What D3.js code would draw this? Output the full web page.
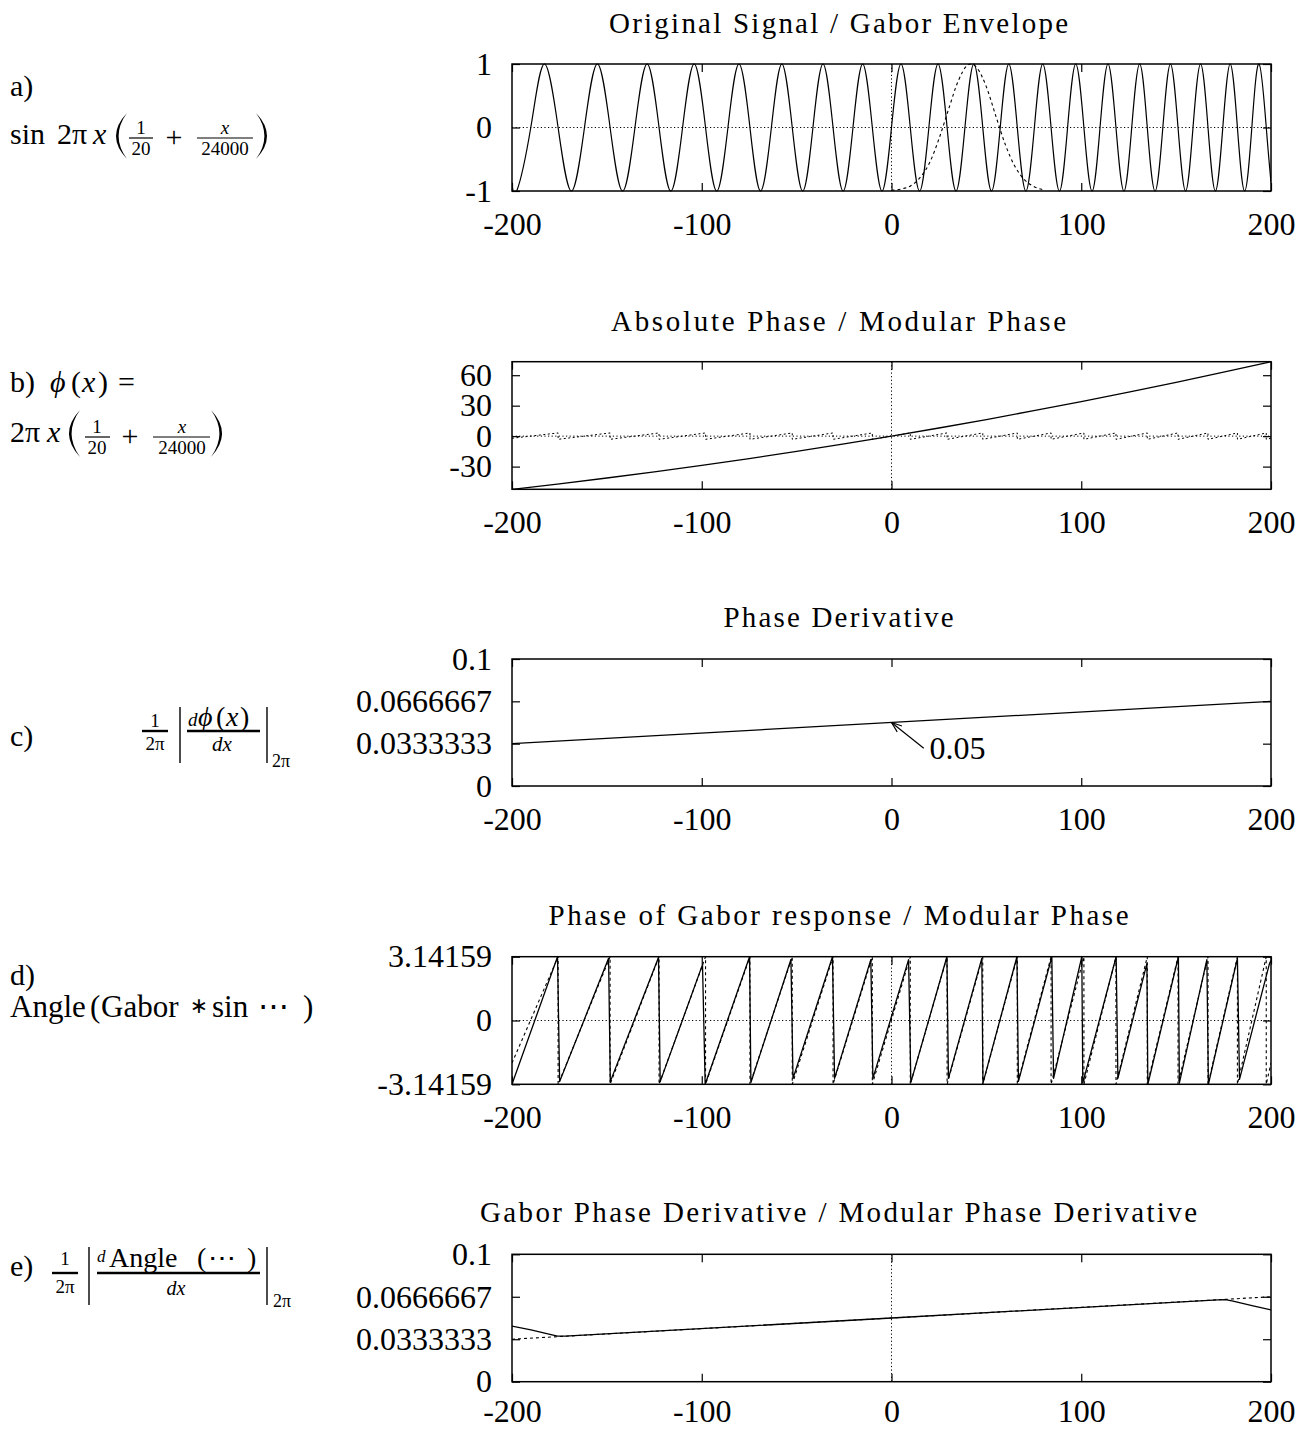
<!DOCTYPE html>
<html>
<head>
<meta charset="utf-8">
<script src="https://cdn.jsdelivr.net/npm/d3@7"></script>
<style>
  body { margin: 0; background: #fff; }
  svg { display: block; }
  text { font-family: "Liberation Serif", "Times New Roman", serif; fill: #000; }
</style>
</head>
<body>
<svg id="fig" width="1312" height="1430"></svg>
<script>
// ---------------- data ----------------
const xTicks = [-200, -100, 0, 100, 200];
const xTickLabels = ["-200", "-100", "0", "100", "200"];

// a) chirp sin 2πx(1/20 + x/24000): samples at extrema and zero crossings
const signalX = [-200, -197.5, -190.1, -183.0, -175.7, -168.7, -161.8, -155.0, -148.3, -141.7, -135.2,
  -128.8, -122.5, -116.3, -110.1, -104.0, -98.0, -92.1, -86.2, -80.4, -74.6, -69.0, -63.3, -57.8,
  -52.3, -46.8, -41.4, -36.1, -30.8, -25.5, -20.3, -15.2, -10.1, -5.0, 0, 5.0, 9.9, 14.8, 19.7,
  24.5, 29.3, 34.0, 38.7, 43.4, 48.1, 52.7, 57.3, 61.8, 66.3, 70.8, 75.3, 79.7, 84.1, 88.5, 92.8,
  97.1, 101.4, 105.7, 109.9, 114.1, 118.3, 122.5, 126.6, 130.8, 134.8, 138.9, 143.0, 147.0, 151.0,
  155.0, 158.9, 162.9, 166.8, 170.7, 174.6, 178.5, 182.3, 186.1, 189.9, 193.7, 197.5, 200];
const signalY = [-0.866,
  -1, 0, 1, 0, -1, 0, 1, 0, -1, 0, 1, 0, -1, 0, 1, 0, -1, 0, 1, 0,
  -1, 0, 1, 0, -1, 0, 1, 0, -1, 0, 1, 0, -1, 0, 1, 0, -1, 0, 1, 0,
  -1, 0, 1, 0, -1, 0, 1, 0, -1, 0, 1, 0, -1, 0, 1, 0, -1, 0, 1, 0,
  -1, 0, 1, 0, -1, 0, 1, 0, -1, 0, 1, 0, -1, 0, 1, 0, -1, 0, 1, 0,
  -0.866];

// a) Gabor envelope
const envelopeX = [0, 5, 10, 15, 20, 25, 30, 35, 40, 42, 45, 50, 55, 60, 65, 70, 75, 80];
const envelopeY = [-0.99, -0.97, -0.92, -0.79, -0.56, -0.18, 0.28, 0.72, 0.98, 1.0, 0.94, 0.64, 0.18,
  -0.27, -0.61, -0.82, -0.93, -0.98];

// b) absolute phase φ(x)
const absPhaseX = [-200, -175, -150, -125, -100, -75, -50, -25, 0, 25, 50, 75, 100, 125, 150, 175, 200];
const absPhaseY = [-52.36, -46.96, -41.23, -35.18, -28.80, -22.09, -15.05, -7.69, 0, 8.02, 16.36,
  25.03, 34.03, 43.36, 53.01, 63.00, 73.30];

// b, d) modular phase (wrapped to [-π, π])
const modPhaseX = [-200, -175.7, -175.7, -148.3, -148.3, -122.5, -122.5, -98.0, -98.0, -74.6, -74.6,
  -52.3, -52.3, -30.8, -30.8, -10.1, -10.1, 9.9, 9.9, 29.3, 29.3, 48.1, 48.1, 66.3, 66.3, 84.1, 84.1,
  101.4, 101.4, 118.3, 118.3, 134.8, 134.8, 151.0, 151.0, 166.8, 166.8, 182.3, 182.3, 197.5, 197.5, 200];
const modPhaseY = [-2.09, 3.14, -3.14, 3.14, -3.14, 3.14, -3.14, 3.14, -3.14, 3.14, -3.14,
  3.14, -3.14, 3.14, -3.14, 3.14, -3.14, 3.14, -3.14, 3.14, -3.14, 3.14, -3.14, 3.14, -3.14, 3.14, -3.14,
  3.14, -3.14, 3.14, -3.14, 3.14, -3.14, 3.14, -3.14, 3.14, -3.14, 3.14, -3.14, 3.14, -3.14, -2.09];

// d) phase of the Gabor response
const gaborPhaseX = [-200, -176.0, -174.9, -149.1, -148.2, -122.8, -121.9, -99.6, -98.2, -74.8, -74.1,
  -53.0, -51.9, -31.1, -30.0, -10.9, -9.8, 9.0, 10.2, 29.2, 30.0, 47.6, 48.2, 66.1, 66.9, 84.5, 85.4,
  100.3, 100.8, 118.4, 119.3, 134.6, 135.1, 151.2, 151.7, 166.2, 167.0, 182.3, 183.4, 199.2, 200];
const gaborPhaseY = [-3.14, 3.14, -3.01, 3.06, -3.01, 3.10, -3.01, 2.75, -3.14, 3.14, -3.05,
  3.00, -2.85, 3.14, -2.85, 3.00, -2.85, 3.00, -3.05, 3.14, -2.85, 3.06, -3.08, 3.14, -3.00, 3.14, -2.85,
  3.14, -3.08, 3.14, -2.85, 2.80, -3.14, 3.14, -3.08, 3.00, -3.14, 3.06, -2.90, 2.80, 2.95];

// c, e) modular phase derivative / 2π
const phaseDerivX = [-200, 200];
const phaseDerivY = [0.0333333, 0.0666667];

// e) Gabor phase derivative / 2π
const gaborDerivX = [-200, -190, -180, -176, -172, 0, 172, 176, 180, 190, 200];
const gaborDerivY = [0.0437, 0.0407, 0.0372, 0.0357, 0.0357, 0.05, 0.0643, 0.0645, 0.0633, 0.0598, 0.0563];

// tick values and labels
const ticksA = [-1, 0, 1], labelsA = ["-1", "0", "1"];
const ticksB = [-30, 0, 30, 60], labelsB = ["-30", "0", "30", "60"];
const ticksDeriv = [0, 0.0333333, 0.0666667, 0.1], labelsDeriv = ["0", "0.0333333", "0.0666667", "0.1"];
const ticksD = [-3.14159, 0, 3.14159], labelsD = ["-3.14159", "0", "3.14159"];

// ---------------- layout ----------------
const svg = d3.select("#fig");
const plotLeft = 512, plotRight = 1271;
const x = d3.scaleLinear().domain([-200, 200]).range([plotLeft, plotRight]);

const panels = [
  { key: "a", title: "Original Signal / Gabor Envelope", titleY: 33, titleLen: 459, xPad: 21,
    top: 64, bottom: 191, yDomain: [-1, 1], yTicks: ticksA, yLabels: labelsA, zeroX: true, zeroY: true },
  { key: "b", title: "Absolute Phase / Modular Phase", titleY: 331, titleLen: 455, xPad: 21,
    top: 361.7, bottom: 489.3, yDomain: [-52.36, 73.30], yTicks: ticksB, yLabels: labelsB, zeroX: true, zeroY: true },
  { key: "c", title: "Phase Derivative", titleY: 627, titleLen: 230, xPad: 21,
    top: 659, bottom: 786, yDomain: [0, 0.1], yTicks: ticksDeriv, yLabels: labelsDeriv, zeroX: false, zeroY: false },
  { key: "d", title: "Phase of Gabor response / Modular Phase", titleY: 925, titleLen: 580, xPad: 21,
    top: 956.7, bottom: 1084.3, yDomain: [-3.14159, 3.14159], yTicks: ticksD, yLabels: labelsD, zeroX: true, zeroY: true },
  { key: "e", title: "Gabor Phase Derivative / Modular Phase Derivative", titleY: 1222, titleLen: 717, xPad: 18,
    top: 1254.3, bottom: 1381.7, yDomain: [0, 0.1], yTicks: ticksDeriv, yLabels: labelsDeriv, zeroX: true, zeroY: false }
];

const TICK_FONT = 32;
const scales = {};

function styleAxis(sel) {
  sel.select("path.domain").remove();
  sel.attr("font-family", null).attr("font-size", TICK_FONT);
  sel.selectAll(".tick line").attr("stroke", "#000").attr("stroke-width", 1.2);
  sel.selectAll(".tick text").attr("fill", "#000");
}

panels.forEach(p => {
  const y = d3.scaleLinear().domain(p.yDomain).range([p.bottom, p.top]);
  scales[p.key] = y;
  const g = svg.append("g").attr("class", "panel panel-" + p.key);

  g.append("text")
    .attr("x", 838.5).attr("y", p.titleY)
    .attr("text-anchor", "middle")
    .attr("font-size", 29)
    .attr("textLength", p.titleLen).attr("lengthAdjust", "spacing")
    .text(p.title);

  svg.append("clipPath").attr("id", "clip-" + p.key)
    .append("rect").attr("x", plotLeft).attr("y", p.top - 1)
    .attr("width", plotRight - plotLeft).attr("height", p.bottom - p.top + 2);

  // zero axes (dotted)
  if (p.zeroY) {
    g.append("line").attr("x1", x(-200)).attr("x2", x(200)).attr("y1", y(0)).attr("y2", y(0))
      .attr("stroke", "#000").attr("stroke-width", 1).attr("stroke-dasharray", "1.2,2.4");
  }
  if (p.zeroX) {
    g.append("line").attr("x1", x(0)).attr("x2", x(0)).attr("y1", p.top).attr("y2", p.bottom)
      .attr("stroke", "#000").attr("stroke-width", 1).attr("stroke-dasharray", "1.2,2.4");
  }

  g.append("g").attr("transform", `translate(${plotLeft},0)`)
    .call(d3.axisLeft(y).tickValues(p.yTicks).tickFormat((d, i) => p.yLabels[i]).tickSize(-8).tickPadding(20))
    .call(styleAxis);
  g.append("g").attr("transform", `translate(${plotRight},0)`)
    .call(d3.axisRight(y).tickValues(p.yTicks).tickFormat("").tickSize(-8))
    .call(styleAxis);
  g.append("g").attr("transform", `translate(0,${p.bottom})`)
    .call(d3.axisBottom(x).tickValues(xTicks).tickFormat((d, i) => xTickLabels[i]).tickSize(-8).tickPadding(p.xPad))
    .call(styleAxis);
  g.append("g").attr("transform", `translate(0,${p.top})`)
    .call(d3.axisTop(x).tickValues(xTicks).tickFormat("").tickSize(-8))
    .call(styleAxis);

  g.append("rect").attr("x", plotLeft).attr("y", p.top)
    .attr("width", plotRight - plotLeft).attr("height", p.bottom - p.top)
    .attr("fill", "none").attr("stroke", "#000").attr("stroke-width", 1.5);

  p.g = g;
});

function plotSeries(key, xs, ys, opts) {
  const y = scales[key];
  const line = d3.line().x(d => x(d[0])).y(d => y(d[1])).curve(opts.curve || d3.curveLinear);
  panels.find(p => p.key === key).g.append("path")
    .attr("clip-path", `url(#clip-${key})`)
    .attr("d", line(d3.zip(xs, ys)))
    .attr("fill", "none")
    .attr("stroke", "#000")
    .attr("stroke-width", opts.width || 1.2)
    .attr("stroke-dasharray", opts.dash || null)
    .attr("stroke-linejoin", "round");
}

// a) signal and envelope
plotSeries("a", signalX, signalY, { curve: d3.curveNatural, width: 1.2 });
plotSeries("a", envelopeX, envelopeY, { curve: d3.curveMonotoneX, width: 1.1, dash: "3,3" });
// b) absolute and modular phase
plotSeries("b", absPhaseX, absPhaseY, { curve: d3.curveNatural, width: 1.3 });
plotSeries("b", modPhaseX, modPhaseY, { width: 1, dash: "2,2.5" });
// c) phase derivative
plotSeries("c", phaseDerivX, phaseDerivY, { width: 1.3 });
// d) Gabor phase and modular phase
plotSeries("d", modPhaseX, modPhaseY, { width: 1.1, dash: "3,3" });
plotSeries("d", gaborPhaseX, gaborPhaseY, { width: 1.3 });
// e) Gabor phase derivative and modular derivative
plotSeries("e", phaseDerivX, phaseDerivY, { width: 1.1, dash: "3,3" });
plotSeries("e", gaborDerivX, gaborDerivY, { width: 1.3 });

// c) annotation: arrow pointing at the value at x = 0
(function () {
  const y = scales.c;
  const g = panels.find(p => p.key === "c").g;
  const hx = x(0), hy = y(0.05);
  const tx = x(17), ty = y(0.0297);
  g.append("line").attr("x1", tx).attr("y1", ty).attr("x2", hx).attr("y2", hy)
    .attr("stroke", "#000").attr("stroke-width", 1.2);
  const ang = Math.atan2(ty - hy, tx - hx);
  [-0.35, 0.35].forEach(da => {
    g.append("line").attr("x1", hx).attr("y1", hy)
      .attr("x2", hx + 11 * Math.cos(ang + da)).attr("y2", hy + 11 * Math.sin(ang + da))
      .attr("stroke", "#000").attr("stroke-width", 1.2);
  });
  g.append("text").attr("x", x(20)).attr("y", ty).attr("dy", "0.32em")
    .attr("font-size", TICK_FONT).text("0.05");
})();

// ---------------- formulas on the left ----------------
const L = svg.append("g").attr("class", "formulas");

function t(xp, yp, str, size, opts = {}) {
  const el = L.append("text").attr("x", xp).attr("y", yp).attr("font-size", size).text(str);
  if (opts.italic) el.attr("font-style", "italic");
  if (opts.anchor) el.attr("text-anchor", opts.anchor);
  if (opts.family) el.style("font-family", opts.family);
  return el;
}
function bar(x1, x2, yp, w) {
  L.append("line").attr("x1", x1).attr("x2", x2).attr("y1", yp).attr("y2", yp)
    .attr("stroke", "#000").attr("stroke-width", w || 1.2);
}
function vbar(xp, y1, y2) {
  L.append("line").attr("x1", xp).attr("x2", xp).attr("y1", y1).attr("y2", y2)
    .attr("stroke", "#000").attr("stroke-width", 1.4);
}
// large parenthesis as a crescent; dir = 1 opens to the right "(", -1 opens to the left ")"
function paren(xEnd, xMid, y1, y2, dir) {
  const ym = (y1 + y2) / 2;
  const c1 = 2 * xMid - xEnd, c2 = 2 * (xMid + dir * 2.6) - xEnd;
  L.append("path")
    .attr("d", `M${xEnd},${y1} Q${c1},${ym} ${xEnd},${y2} Q${c2},${ym} ${xEnd},${y1} Z`)
    .attr("fill", "#000");
}

// a)
t(10, 96, "a)", 30);
t(10, 144, "sin", 30);
t(57, 144, "2π", 30);
t(93, 144, "x", 30, { italic: true });
paren(127, 116, 113, 159, 1);
t(141, 134, "1", 19, { anchor: "middle" });
bar(129, 153, 138);
t(141, 155, "20", 19, { anchor: "middle" });
t(174, 147, "+", 30, { anchor: "middle" });
t(225, 134, "x", 19, { anchor: "middle", italic: true });
bar(197, 253, 138);
t(225, 155, "24000", 19, { anchor: "middle" });
paren(256, 267, 113, 159, -1);

// b)
t(10, 392, "b)", 30);
t(50, 392, "ϕ", 30, { italic: true });
t(71, 392, "(", 30);
t(82, 392, "x", 30, { italic: true });
t(98, 392, ")", 30);
t(118, 392, "=", 30);
t(10, 442, "2π", 30);
t(47, 442, "x", 30, { italic: true });
paren(80, 69, 410, 457, 1);
t(97, 433, "1", 19, { anchor: "middle" });
bar(85, 110, 437);
t(97, 454, "20", 19, { anchor: "middle" });
t(130, 446, "+", 30, { anchor: "middle" });
t(182, 433, "x", 19, { anchor: "middle", italic: true });
bar(153, 210, 437);
t(182, 454, "24000", 19, { anchor: "middle" });
paren(211, 222, 410, 457, -1);

// c)
t(10, 746, "c)", 30);
t(155, 727, "1", 19, { anchor: "middle" });
bar(142, 168, 731, 2.4);
t(155, 750, "2π", 19, { anchor: "middle" });
vbar(180, 707, 763);
t(188, 726, "d", 19, { italic: true });
t(198, 726, "ϕ", 28, { italic: true });
t(216, 726, "(", 28);
t(226, 726, "x", 28, { italic: true });
t(240, 726, ")", 28);
bar(187, 260, 731, 2.6);
t(222, 751, "dx", 21, { anchor: "middle", italic: true });
vbar(267, 707, 763);
t(272, 767, "2π", 18);

// d)
t(10, 985, "d)", 30);
t(10, 1017, "Angle", 31);
t(90, 1017, "(", 31);
t(101, 1017, "Gabor", 31);
t(199, 1013, "∗", 22, { anchor: "middle", family: "DejaVu Sans" });
t(212, 1017, "sin", 31);
t(258, 1017, "⋯", 31);
t(303, 1017, ")", 31);

// e)
t(10, 1276, "e)", 30);
t(65, 1265, "1", 19, { anchor: "middle" });
bar(52, 78, 1273, 2.4);
t(65, 1293, "2π", 19, { anchor: "middle" });
vbar(89, 1247, 1305);
t(97, 1262, "d", 17, { italic: true });
t(109, 1267, "Angle", 28);
t(197, 1267, "(", 28);
t(208, 1267, "⋯", 28);
t(247, 1267, ")", 28);
bar(97, 260, 1273, 2.6);
t(176, 1295, "dx", 20, { anchor: "middle", italic: true });
vbar(267, 1247, 1305);
t(273, 1307, "2π", 18);
</script>
</body>
</html>
